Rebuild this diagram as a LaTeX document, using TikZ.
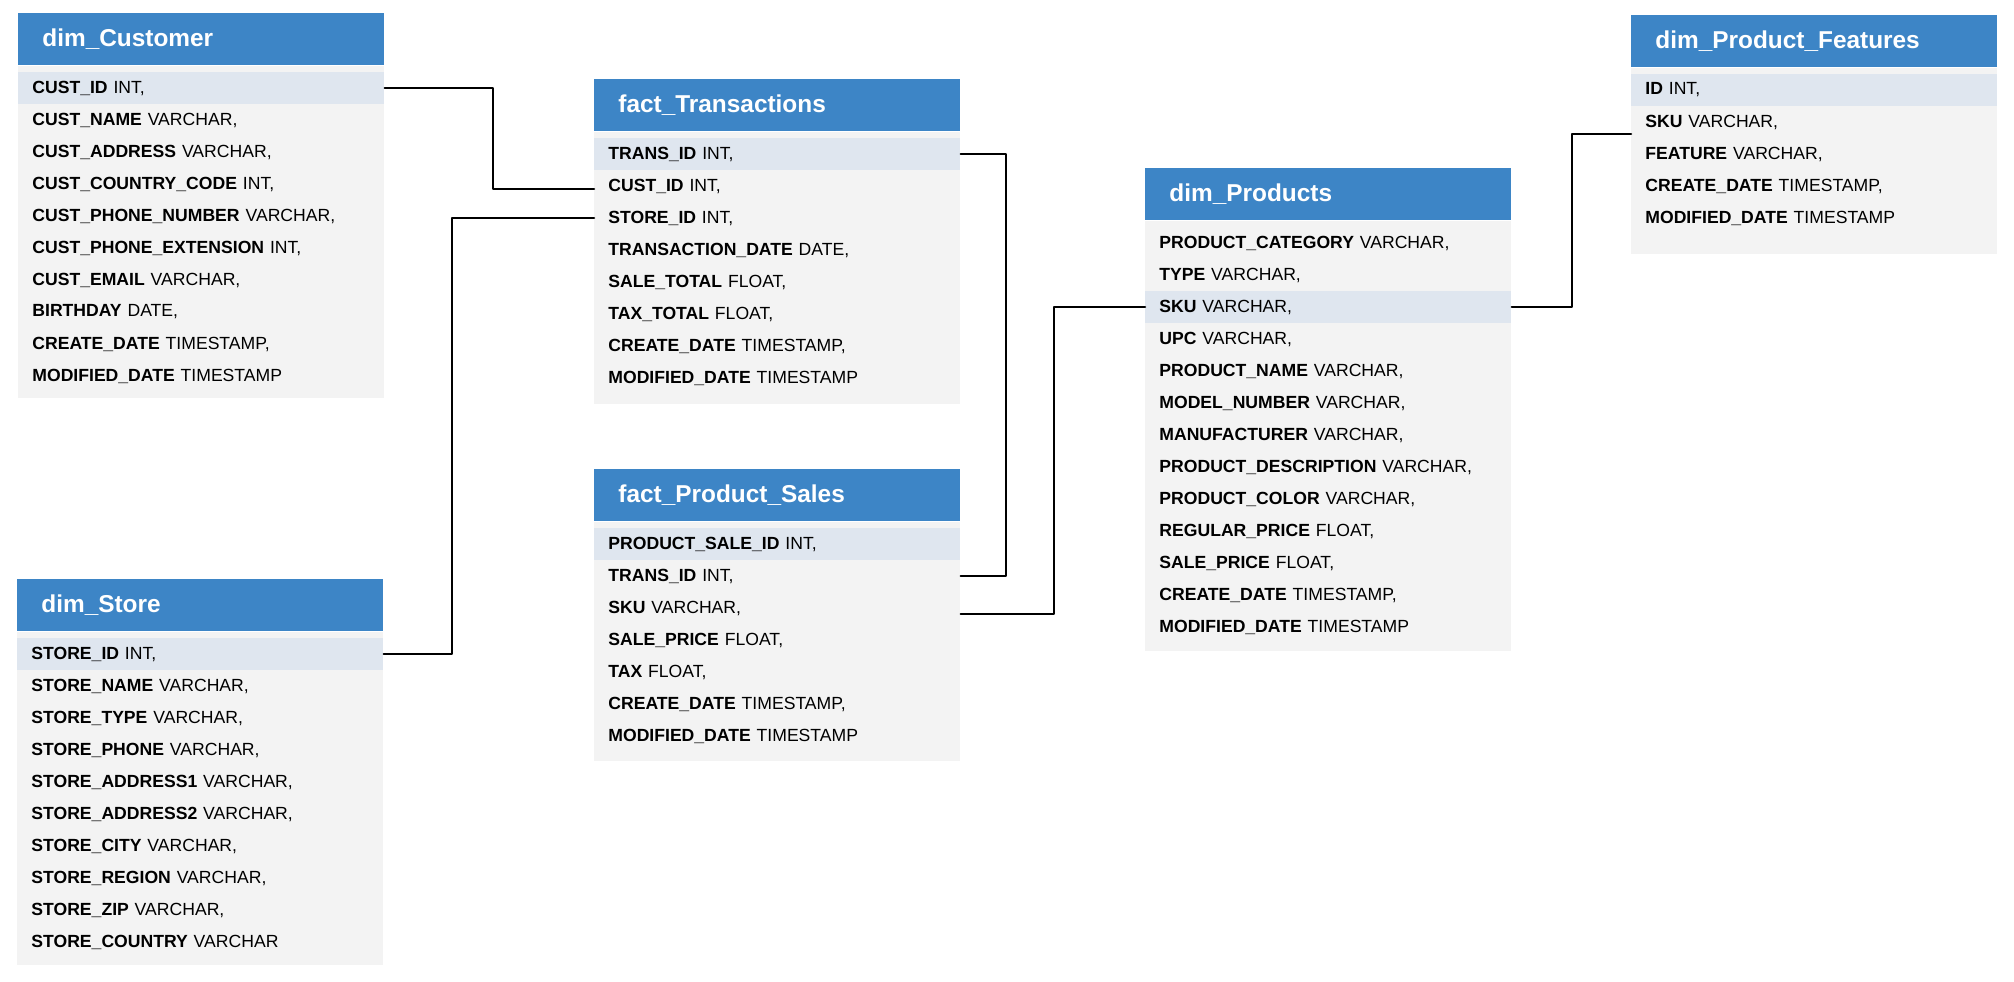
\documentclass[tikz,border=0pt]{standalone}
\usepackage{fontspec}
\setmainfont{Liberation Sans}
\definecolor{headblue}{HTML}{3D85C6}
\definecolor{bodygray}{HTML}{F3F3F3}
\definecolor{keyblue}{HTML}{DFE6EF}
\begin{document}
\begin{tikzpicture}[x=0.5pt, y=-0.5pt, line cap=round, line join=round]
	\tikzset{
		table_head/.style={anchor=north west, fill=headblue, text=white, minimum height=26pt, inner xsep=12pt, text width=159pt, align=left, font=\fontsize{12.2}{14}\selectfont\bfseries},
		field_row/.style={anchor=west, minimum height=16pt, inner ysep=0pt, inner xsep=7pt, text width=169pt, align=left, font=\fontsize{8.8}{10}\selectfont},
		key_row/.style={field_row, fill=keyblue}, % ligne de la clé
		link/.style={draw=black, line width=1.3pt}
	}
	\useasboundingbox[fill=white] (0,0) rectangle (2014,981);

	% dim_Customer
	\node[table_head] (cust) at (18,13) {dim\_Customer};
	\fill[bodygray] (cust.south west) rectangle ++(366,332);
	\foreach \fstyle/\fname/\ftype [count=\i] in {key_row/CUST\_ID/{INT,}, field_row/CUST\_NAME/{VARCHAR,}, field_row/CUST\_ADDRESS/{VARCHAR,}, field_row/CUST\_COUNTRY\_CODE/{INT,}, field_row/CUST\_PHONE\_NUMBER/{VARCHAR,}, field_row/CUST\_PHONE\_EXTENSION/{INT,}, field_row/CUST\_EMAIL/{VARCHAR,}, field_row/BIRTHDAY/{DATE,}, field_row/CREATE\_DATE/{TIMESTAMP,}, field_row/MODIFIED\_DATE/{TIMESTAMP}} {
		\node[\fstyle] (cust-\i) at (18,{13+75+(\i-1)*32}) {\textbf{\fname} \ftype};
	}

	% dim_Store
	\node[table_head] (store) at (17,579) {dim\_Store};
	\fill[bodygray] (store.south west) rectangle ++(366,333);
	\foreach \fstyle/\fname/\ftype [count=\i] in {key_row/STORE\_ID/{INT,}, field_row/STORE\_NAME/{VARCHAR,}, field_row/STORE\_TYPE/{VARCHAR,}, field_row/STORE\_PHONE/{VARCHAR,}, field_row/STORE\_ADDRESS1/{VARCHAR,}, field_row/STORE\_ADDRESS2/{VARCHAR,}, field_row/STORE\_CITY/{VARCHAR,}, field_row/STORE\_REGION/{VARCHAR,}, field_row/STORE\_ZIP/{VARCHAR,}, field_row/STORE\_COUNTRY/{VARCHAR}} {
		\node[\fstyle] (store-\i) at (17,{579+75+(\i-1)*32}) {\textbf{\fname} \ftype};
	}

	% fact_Transactions
	\node[table_head] (trans) at (594,79) {fact\_Transactions};
	\fill[bodygray] (trans.south west) rectangle ++(366,272);
	\foreach \fstyle/\fname/\ftype [count=\i] in {key_row/TRANS\_ID/{INT,}, field_row/CUST\_ID/{INT,}, field_row/STORE\_ID/{INT,}, field_row/TRANSACTION\_DATE/{DATE,}, field_row/SALE\_TOTAL/{FLOAT,}, field_row/TAX\_TOTAL/{FLOAT,}, field_row/CREATE\_DATE/{TIMESTAMP,}, field_row/MODIFIED\_DATE/{TIMESTAMP}} {
		\node[\fstyle] (trans-\i) at (594,{79+75+(\i-1)*32}) {\textbf{\fname} \ftype};
	}

	% fact_Product_Sales
	\node[table_head] (sales) at (594,469) {fact\_Product\_Sales};
	\fill[bodygray] (sales.south west) rectangle ++(366,239);
	\foreach \fstyle/\fname/\ftype [count=\i] in {key_row/PRODUCT\_SALE\_ID/{INT,}, field_row/TRANS\_ID/{INT,}, field_row/SKU/{VARCHAR,}, field_row/SALE\_PRICE/{FLOAT,}, field_row/TAX/{FLOAT,}, field_row/CREATE\_DATE/{TIMESTAMP,}, field_row/MODIFIED\_DATE/{TIMESTAMP}} {
		\node[\fstyle] (sales-\i) at (594,{469+75+(\i-1)*32}) {\textbf{\fname} \ftype};
	}

	% dim_Products
	\node[table_head] (prod) at (1145,168) {dim\_Products};
	\fill[bodygray] (prod.south west) rectangle ++(366,430);
	\foreach \fstyle/\fname/\ftype [count=\i] in {field_row/PRODUCT\_CATEGORY/{VARCHAR,}, field_row/TYPE/{VARCHAR,}, key_row/SKU/{VARCHAR,}, field_row/UPC/{VARCHAR,}, field_row/PRODUCT\_NAME/{VARCHAR,}, field_row/MODEL\_NUMBER/{VARCHAR,}, field_row/MANUFACTURER/{VARCHAR,}, field_row/PRODUCT\_DESCRIPTION/{VARCHAR,}, field_row/PRODUCT\_COLOR/{VARCHAR,}, field_row/REGULAR\_PRICE/{FLOAT,}, field_row/SALE\_PRICE/{FLOAT,}, field_row/CREATE\_DATE/{TIMESTAMP,}, field_row/MODIFIED\_DATE/{TIMESTAMP}} {
		\node[\fstyle] (prod-\i) at (1145,{168+75+(\i-1)*32}) {\textbf{\fname} \ftype};
	}

	% dim_Product_Features
	\node[table_head] (feat) at (1631,15) {dim\_Product\_Features};
	\fill[bodygray] (feat.south west) rectangle ++(366,186);
	\foreach \fstyle/\fname/\ftype [count=\i] in {key_row/ID/{INT,}, field_row/SKU/{VARCHAR,}, field_row/FEATURE/{VARCHAR,}, field_row/CREATE\_DATE/{TIMESTAMP,}, field_row/MODIFIED\_DATE/{TIMESTAMP}} {
		\node[\fstyle] (feat-\i) at (1631,{15+75+(\i-1)*32}) {\textbf{\fname} \ftype};
	}

	% liens
	\draw[link] (cust-1.east) -- ++(108,0) |- ([yshift=-1.5pt]trans-2.west);
	\draw[link] (trans-3.west) -- ++(-142,0) |- (store-1.east);
	\draw[link] (trans-1.east) -- ++(45,0) |- (sales-2.east);
	\draw[link] ([yshift=-3pt]sales-3.east) -- ++(93,0) |- (prod-3.west);
	\draw[link] (prod-3.east) -- ++(60,0) |- ([yshift=-6pt]feat-2.west);
\end{tikzpicture}
\end{document}
